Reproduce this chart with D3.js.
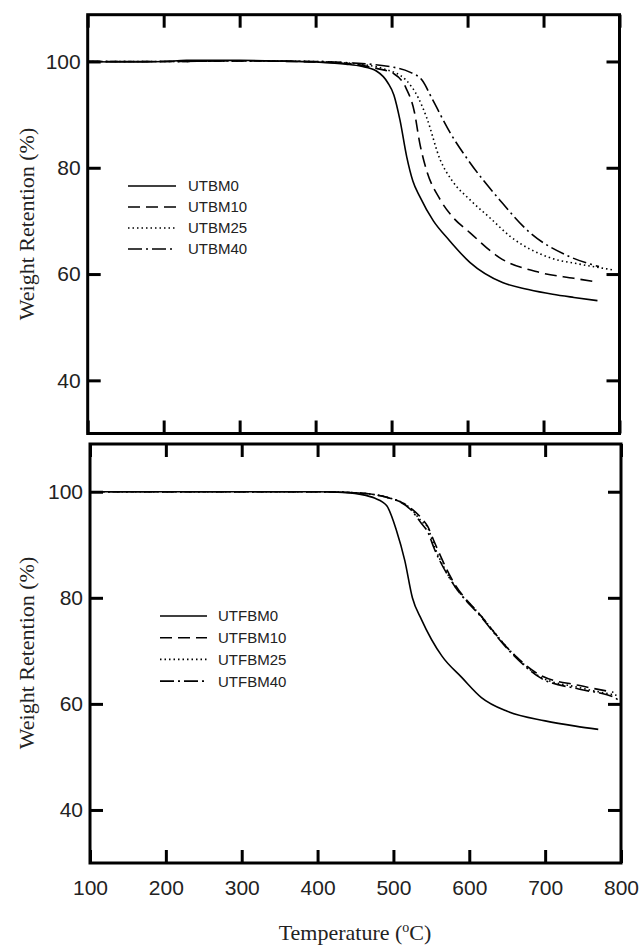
<!DOCTYPE html>
<html><head><meta charset="utf-8">
<script src="https://cdn.jsdelivr.net/npm/d3@7"></script>
<style>
html,body{margin:0;padding:0;background:#fff;}
svg{display:block;}
.tick text{font-family:"Liberation Sans",Arial,sans-serif;font-size:21px;fill:#222;}
</style></head>
<body>
<script>
// ---------- data ----------
const xTicks = [100,200,300,400,500,600,700,800];
const yTicks = [40,60,80,100];

const topNames = ["UTBM0","UTBM10","UTBM25","UTBM40"];
const botNames = ["UTFBM0","UTFBM10","UTFBM25","UTFBM40"];

const utbm0T  = [100,150,200,230,300,350,400,440,460,480,495,503,511,520,528,537,555,575,603,646,680,712,740,771];
const utbm0W  = [100,99.9,100,100.2,100.2,100.1,99.9,99.5,99.1,98.2,96,93.7,89,82,77.5,74.6,70,66.5,62.2,58.4,57.1,56.2,55.6,55.0];
const utbm10T = [100,200,300,400,450,480,503,519,530,537,545,564,580,603,642,695,740,770];
const utbm10W = [100,100,100.1,99.9,99.5,98.7,97.7,95,90.5,84.7,80,74,70.8,67.8,63.1,60.3,59.2,58.5];
const utbm25T = [100,200,300,400,450,490,519,535,546,564,580,603,630,656,708,750,791];
const utbm25W = [100,100,100.1,100,99.6,98.6,96.5,93.2,89.5,81.5,77.5,74,70.5,67.1,63.1,61.8,60.8];
const utbm40T = [100,200,300,400,450,490,503,524,540,554,577,603,642,682,734,773];
const utbm40W = [100,100,100.1,100,99.7,99.2,98.9,98,96.5,92.8,86.6,81,74,67.8,63.3,61.4];

const utfbm0T  = [100,200,300,400,440,457,475,491,504,515,525,537,564,590,616,650,700,740,770];
const utfbm0W  = [100,100,100,100,99.8,99.5,98.8,97.4,92.7,87,80,75.9,69,65,61.2,58.6,56.8,55.8,55.2];
const utfbm10T = [100,200,300,400,450,490,523,537,545,554,577,616,656,695,744,790];
const utfbm10W = [100,100,100,100,99.8,99,96.9,95,93.5,90.5,83.5,76.5,69.7,65.3,63.5,62.2];
const utfbm25T = [100,200,300,400,450,490,523,537,545,554,577,616,656,695,744,795];
const utfbm25W = [100,100,100,100,99.8,99,96.8,94.4,93.3,89.7,83.1,76.5,69.7,65,63.1,61.6];
const utfbm40T = [100,200,300,400,450,490,523,537,545,554,577,616,656,695,744,790,800];
const utfbm40W = [100,100,100,100,99.8,99,96.6,94,92.5,89.2,83,76.3,69.5,64.8,62.8,61.3,60.3];

const dashes = [null, "12,6", "1.5,3", "14,4,2,4"];

const W = 642, H = 947;
const svg = d3.select("body").append("svg").attr("width", W).attr("height", H);

function zip(T, V){ return T.map((t,i)=>({t, v:V[i]})); }

const panels = [
  { box:{x0:87.7, x1:619.5, y0:14.7, y1:433.5}, yDom:[30,108.8], names:topNames,
    series:[zip(utbm0T,utbm0W), zip(utbm10T,utbm10W), zip(utbm25T,utbm25W), zip(utbm40T,utbm40W)],
    legend:{lx0:128, lx1:176, tx:188, y0:186, dy:21}, xLabels:false, titleY:224 },
  { box:{x0:90, x1:621, y0:444, y1:863}, yDom:[30,109], names:botNames,
    series:[zip(utfbm0T,utfbm0W), zip(utfbm10T,utfbm10W), zip(utfbm25T,utfbm25W), zip(utfbm40T,utfbm40W)],
    legend:{lx0:160, lx1:207, tx:218, y0:616, dy:21.7}, xLabels:true, titleY:653 }
];

panels.forEach(p => {
  const b = p.box;
  const x = d3.scaleLinear().domain([100,800]).range([b.x0, b.x1]);
  const y = d3.scaleLinear().domain(p.yDom).range([b.y1, b.y0]);
  const g = svg.append("g");

  const tl = 13;
  const ax = [
    g.append("g").attr("transform",`translate(0,${b.y1})`).call(d3.axisBottom(x).tickValues(xTicks).tickSize(-tl).tickPadding(17).tickFormat(p.xLabels ? d3.format("d") : "")),
    g.append("g").attr("transform",`translate(0,${b.y0})`).call(d3.axisTop(x).tickValues(xTicks).tickSize(-tl).tickFormat("")),
    g.append("g").attr("transform",`translate(${b.x0},0)`).call(d3.axisLeft(y).tickValues(yTicks).tickSize(-tl).tickPadding(7).tickFormat(d3.format("d"))),
    g.append("g").attr("transform",`translate(${b.x1},0)`).call(d3.axisRight(y).tickValues(yTicks).tickSize(-tl).tickFormat(""))
  ];
  ax.forEach(a => {
    a.select(".domain").remove();
    a.selectAll(".tick line").attr("stroke","#000").attr("stroke-width",3);
  });

  const line = d3.line().x(d=>x(d.t)).y(d=>y(d.v)).curve(d3.curveMonotoneX);
  p.series.forEach((s,i) => {
    g.append("path").datum(s).attr("d", line)
      .attr("fill","none").attr("stroke","#000").attr("stroke-width",1.6)
      .attr("stroke-dasharray", dashes[i]);
  });

  g.append("rect").attr("x",b.x0).attr("y",b.y0).attr("width",b.x1-b.x0).attr("height",b.y1-b.y0)
    .attr("fill","none").attr("stroke","#000").attr("stroke-width",3);

  const L = p.legend;
  p.names.forEach((n,i) => {
    const yy = L.y0 + i*L.dy;
    g.append("line").attr("x1",L.lx0).attr("x2",L.lx1).attr("y1",yy).attr("y2",yy)
      .attr("stroke","#000").attr("stroke-width",1.6).attr("stroke-dasharray", dashes[i]);
    g.append("text").attr("x",L.tx).attr("y",yy).attr("dy","0.36em")
      .style("font-family","'Liberation Sans',Arial,sans-serif").style("font-size","15px").attr("fill","#222")
      .text(n);
  });

  g.append("text").attr("transform",`translate(26,${p.titleY}) rotate(-90)`)
    .attr("text-anchor","middle").attr("dy","0.35em")
    .style("font-family","'Liberation Serif','Times New Roman',serif").style("font-size","22px").attr("fill","#222")
    .text("Weight Retention (%)");
});

const xt = svg.append("text").attr("x",355).attr("y",940).attr("text-anchor","middle")
  .style("font-family","'Liberation Serif','Times New Roman',serif").style("font-size","22px").attr("fill","#222");
xt.append("tspan").text("Temperature (");
xt.append("tspan").attr("dy",-8).style("font-size","14px").text("o");
xt.append("tspan").attr("dy",8).text("C)");
</script>
</body></html>
